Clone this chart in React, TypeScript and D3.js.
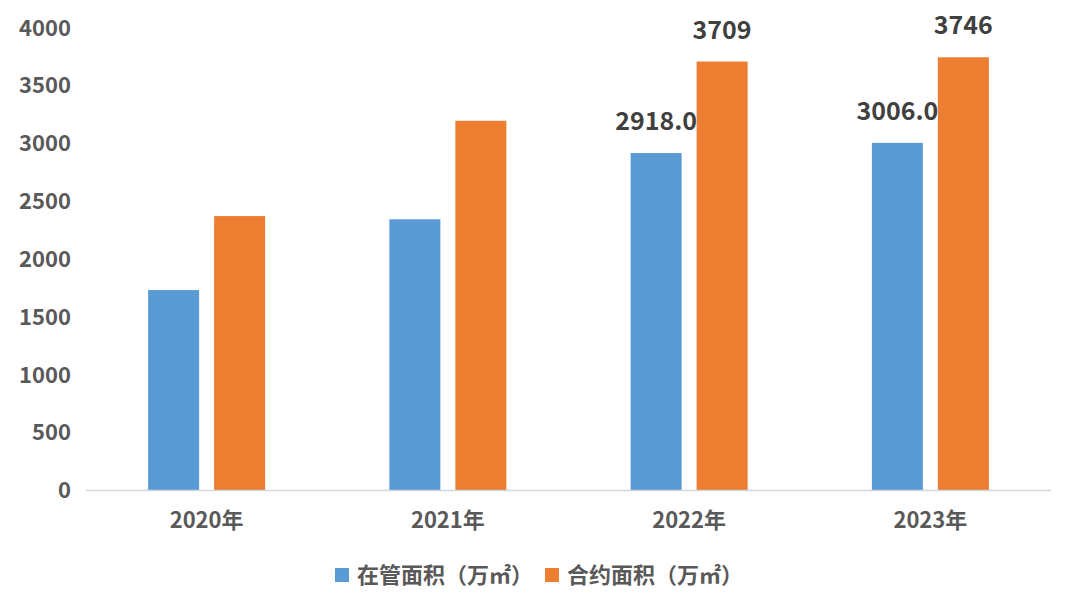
import React from "react";
import * as d3 from "d3";

const categories = ["2020年", "2021年", "2022年", "2023年"];
const seriesNames = ["在管面积（万㎡）", "合约面积（万㎡）"];
const managedArea = [1733, 2345, 2918, 3006];
const contractArea = [2373, 3197, 3709, 3746];
const managedLabels = ["", "", "2918.0", "3006.0"];
const contractLabels = ["", "", "3709", "3746"];
const yTicks = [0, 500, 1000, 1500, 2000, 2500, 3000, 3500, 4000];
const colors = ["#5b9bd5", "#ed7d31"];

const W = 1080;
const H = 613;
const FONT = "'Noto Sans CJK SC', 'Noto Sans', sans-serif";

export default function App() {
  const x0 = d3.scaleBand<string>().domain(categories).range([86, 1051]).padding(0);
  const x1 = d3
    .scaleBand<string>()
    .domain(seriesNames)
    .range([0, x0.bandwidth()])
    .paddingInner(0.227)
    .paddingOuter(0.941);
  const y = d3.scaleLinear().domain([0, 4000]).range([490.5, 27.9]);

  const series = [
    { name: seriesNames[0], values: managedArea, labels: managedLabels, color: colors[0] },
    { name: seriesNames[1], values: contractArea, labels: contractLabels, color: colors[1] },
  ];

  return (
    <svg
      width={W}
      height={H}
      style={{ position: "absolute", left: 0, top: 0, background: "#fff" }}
      fontFamily={FONT}
    >
      <rect x={0} y={0} width={W} height={H} fill="#fff" />
      {yTicks.map((t) => (
        <text
          key={t}
          x={71}
          y={y(t)}
          dy="0.35em"
          textAnchor="end"
          fontSize={22}
          fontWeight="bold"
          fill="#595959"
        >
          {t}
        </text>
      ))}
      {series.map((s) =>
        categories.map((c, i) => (
          <rect
            key={s.name + c}
            x={(x0(c) as number) + (x1(s.name) as number)}
            y={y(s.values[i])}
            width={x1.bandwidth()}
            height={y(0) - y(s.values[i])}
            fill={s.color}
          />
        ))
      )}
      <line x1={86} x2={1051} y1={y(0)} y2={y(0)} stroke="#d0d7de" strokeWidth={1.5} />
      {series.map((s) =>
        categories.map((c, i) =>
          s.labels[i] ? (
            <text
              key={"l" + s.name + c}
              x={(x0(c) as number) + (x1(s.name) as number) + x1.bandwidth() / 2}
              y={y(s.values[i]) - 23}
              textAnchor="middle"
              fontSize={25}
              fontWeight="bold"
              fill="#404040"
            >
              {s.labels[i]}
            </text>
          ) : null
        )
      )}
      {categories.map((c) => (
        <text
          key={c}
          x={(x0(c) as number) + x0.bandwidth() / 2}
          y={520}
          dy="0.35em"
          textAnchor="middle"
          fontSize={22}
          fontWeight="bold"
          fill="#595959"
        >
          {c}
        </text>
      ))}
      {series.map((s, i) => {
        const lx = [335, 545][i];
        return (
          <g key={"lg" + s.name}>
            <rect x={lx} y={568} width={14} height={14} fill={s.color} />
            <text
              x={lx + 22}
              y={575}
              dy="0.35em"
              fontSize={22}
              fontWeight="bold"
              fill="#595959"
            >
              {s.name}
            </text>
          </g>
        );
      })}
    </svg>
  );
}
